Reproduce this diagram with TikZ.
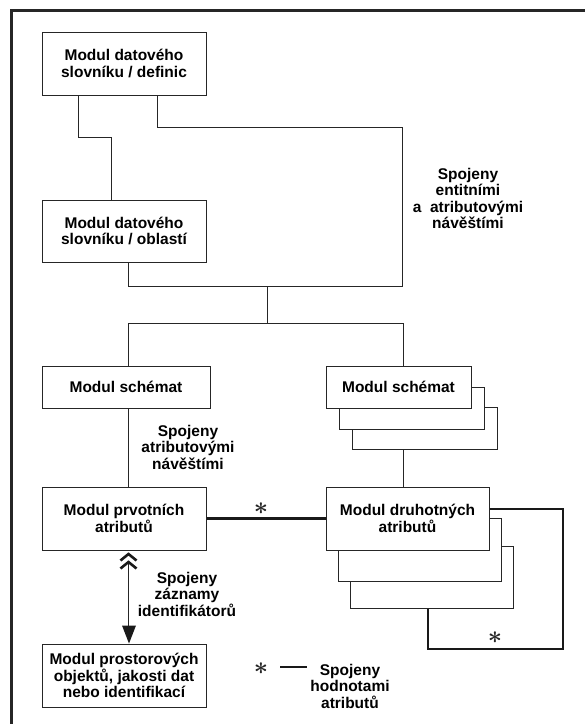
\documentclass[tikz,border=0pt]{standalone}
\usepackage{fontspec}
\setmainfont{Liberation Sans}
\begin{document}
\begin{tikzpicture}[x=1pt,y=-1pt,
  txt/.style={font=\bfseries\fontsize{15.5}{16.5}\selectfont,align=center,text=black},
  box/.style={txt,draw=black!85,line width=1pt,fill=white,inner sep=0pt},
  conn/.style={draw=black!85,line width=1pt},
  heavy/.style={draw=black!90,line width=2.4pt},
  star/.style={inner sep=0pt,font=\boldmath\fontsize{25}{25}\selectfont,text=black!85}]
\useasboundingbox (0,0) rectangle (585,724);
% frame (top and left edges)
\draw[line width=3pt,black!85] (585,10) -- (11,10) -- (11,724);

% boxes
\node[box,minimum width=164pt,minimum height=63pt] (b1) at (124,63.5) {Modul datového\\slovníku / definic};
\node[box,minimum width=164pt,minimum height=62pt] (b2) at (124,231) {Modul datového\\slovníku / oblastí};
\node[box,minimum width=168pt,minimum height=42pt] (s1) at (126,387) {Modul schémat};
\node[box,minimum width=145pt,minimum height=42pt] (s2c) at (425,428) {};
\node[box,minimum width=145pt,minimum height=42pt] (s2b) at (411.5,408) {};
\node[box,minimum width=145pt,minimum height=42pt] (s2) at (398.5,387) {Modul schémat};
\node[box,minimum width=164pt,minimum height=63pt] (p) at (124,518.5) {Modul prvotních\\atributů};
\node[box,minimum width=163pt,minimum height=62pt] (dc) at (431.5,577) {};
\node[box,minimum width=163pt,minimum height=63pt] (db) at (420,549.5) {};
\node[box,minimum width=163pt,minimum height=63pt] (d) at (407.5,518.5) {Modul druhotných\\atributů};
\node[box,minimum width=164pt,minimum height=63pt] (b5) at (124,675.5) {Modul prostorových\\objektů, jakosti dat\\nebo identifikací};

% coordinates
\coordinate (c1a) at (78,137);
\coordinate (c1b) at (111,137);
\coordinate (c2a) at (157,127);
\coordinate (c2b) at (402,127);
\coordinate (c2c) at (402,286);
\coordinate (c2d) at (128,286);
\coordinate (j1) at (267,286);
\coordinate (j2) at (267,323);
\coordinate (j3) at (128,323);
\coordinate (j4) at (403,323);
\coordinate (l1) at (563,509);
\coordinate (l2) at (563,649);
\coordinate (l3) at (428,649);

% thin connectors
\draw[conn] (c1a |- b1.south) -- (c1a) -- (c1b) -- (c1b |- b2.north);
\draw[conn] (c2a |- b1.south) -- (c2a) -- (c2b) -- (c2c) -- (c2d) -- (c2d |- b2.south);
\draw[conn] (j1) -- (j2);
\draw[conn] (j3 |- s1.north) -- (j3) -- (j4) -- (j4 |- s2.north);
\draw[conn] (j4 |- s2c.south) -- (j4 |- d.north);
\draw[conn] (j3 |- s1.south) -- (j3 |- p.north);

% thick connectors
\draw[heavy] (p.east) -- (d.west |- p.east);
\draw[heavy] (d.east |- l1) -- (l1) -- (l2) -- (l3) -- (l3 |- dc.south);

% double arrow
\draw[conn] ([xshift=4.5pt,yshift=-12pt]p.south) -- ([xshift=4.5pt,yshift=18pt]b5.north);
\fill[black!90] ([xshift=-2pt,yshift=18pt]b5.north) -- ([xshift=12pt,yshift=18pt]b5.north) -- ([xshift=5pt]b5.north) -- cycle;
\draw[line width=2.6pt,black!90] ([xshift=-3.5pt,yshift=-10pt]p.south) -- ([xshift=4.5pt,yshift=-3.5pt]p.south) -- ([xshift=12.5pt,yshift=-10pt]p.south);
\draw[line width=2.6pt,black!90] ([xshift=-3.5pt,yshift=-18pt]p.south) -- ([xshift=4.5pt,yshift=-11.5pt]p.south) -- ([xshift=12.5pt,yshift=-18pt]p.south);

% labels
\node[txt] (t1) at (468,198.5) {Spojeny\\entitními\\a~~atributovými\\návěštími};
\node[txt] (t2) at (188,447) {Spojeny\\atributovými\\návěštími};
\node[txt] (t3) at (187,594) {Spojeny\\záznamy\\identifikátorů};
\node[txt] (t4) at (350,686) {Spojeny\\hodnotami\\atributů};

% asterisks and legend
\node[star] (a1) at (261,509) {$\ast$};
\node[star] (a2) at (495,638) {$\ast$};
\node[star] (a3) at (261,669) {$\ast$};
\coordinate (lg1) at (280,667);
\coordinate (lg2) at (307,667);
\draw[heavy] (lg1) -- (lg2);
\end{tikzpicture}
\end{document}
